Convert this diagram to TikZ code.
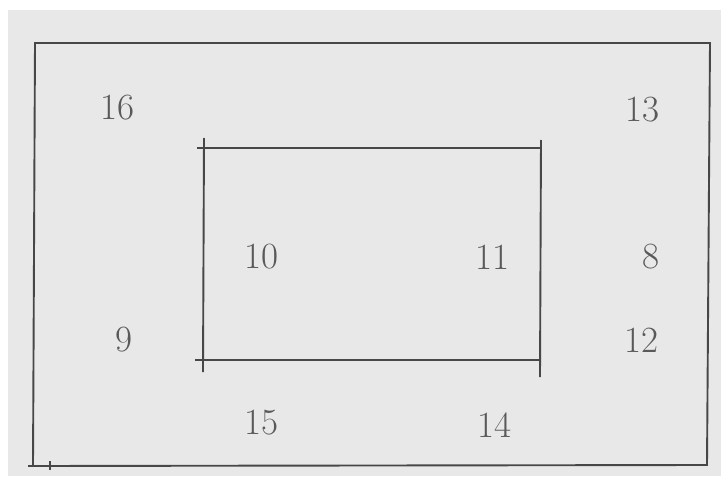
\documentclass[tikz,border=0pt]{standalone}
\usepackage{fontspec}
\begin{document}
\begin{tikzpicture}[x=1pt,y=-1pt,
  frame/.style={draw=black!72,line width=1.9pt},
  num/.style={font=\fontsize{37}{37}\selectfont\rmfamily,text=black!65,inner sep=0pt,anchor=center}]
\useasboundingbox (0,0) rectangle (721,482);
\fill[white] (0,0) rectangle (721,482);
\fill[black!9] (8,10) rectangle (721,476);
% outer frame
\coordinate (otl) at (35,43);
\coordinate (otr) at (710,43);
\coordinate (obr) at (707,465);
\coordinate (obl) at (33,466);
\coordinate (obx) at (28,466);
\draw[frame] (otl) -- (otr) -- (obr) -- (obl) -- cycle;
\draw[frame] (obx) -- (obl);
\coordinate (tka) at (50,461);
\coordinate (tkb) at (50,470);
\draw[frame,line width=1.2pt] (tka) -- (tkb);
% inner frame with overshooting lines
\coordinate (lt) at (204,138);
\coordinate (lb) at (203,372);
\coordinate (rt) at (541,140);
\coordinate (rb) at (540,377);
\coordinate (ta) at (197,148);
\coordinate (tb) at (541,148);
\coordinate (ba) at (195,360);
\coordinate (bb) at (540,360);
\draw[frame] (lt) -- (lb);
\draw[frame] (rt) -- (rb);
\draw[frame] (ta) -- (tb);
\draw[frame] (ba) -- (bb);
% labels
\node[num] (n16) at (117,108) {16};
\node[num] (n13) at (642,110) {13};
\node[num] (n10) at (261,257) {10};
\node[num] (n11) at (492,257) {11};
\node[num] (n8)  at (651,257) {8};
\node[num] (n9)  at (124,340) {9};
\node[num] (n12) at (641,340) {12};
\node[num] (n15) at (261,423) {15};
\node[num] (n14) at (494,425) {14};
\end{tikzpicture}
\end{document}
